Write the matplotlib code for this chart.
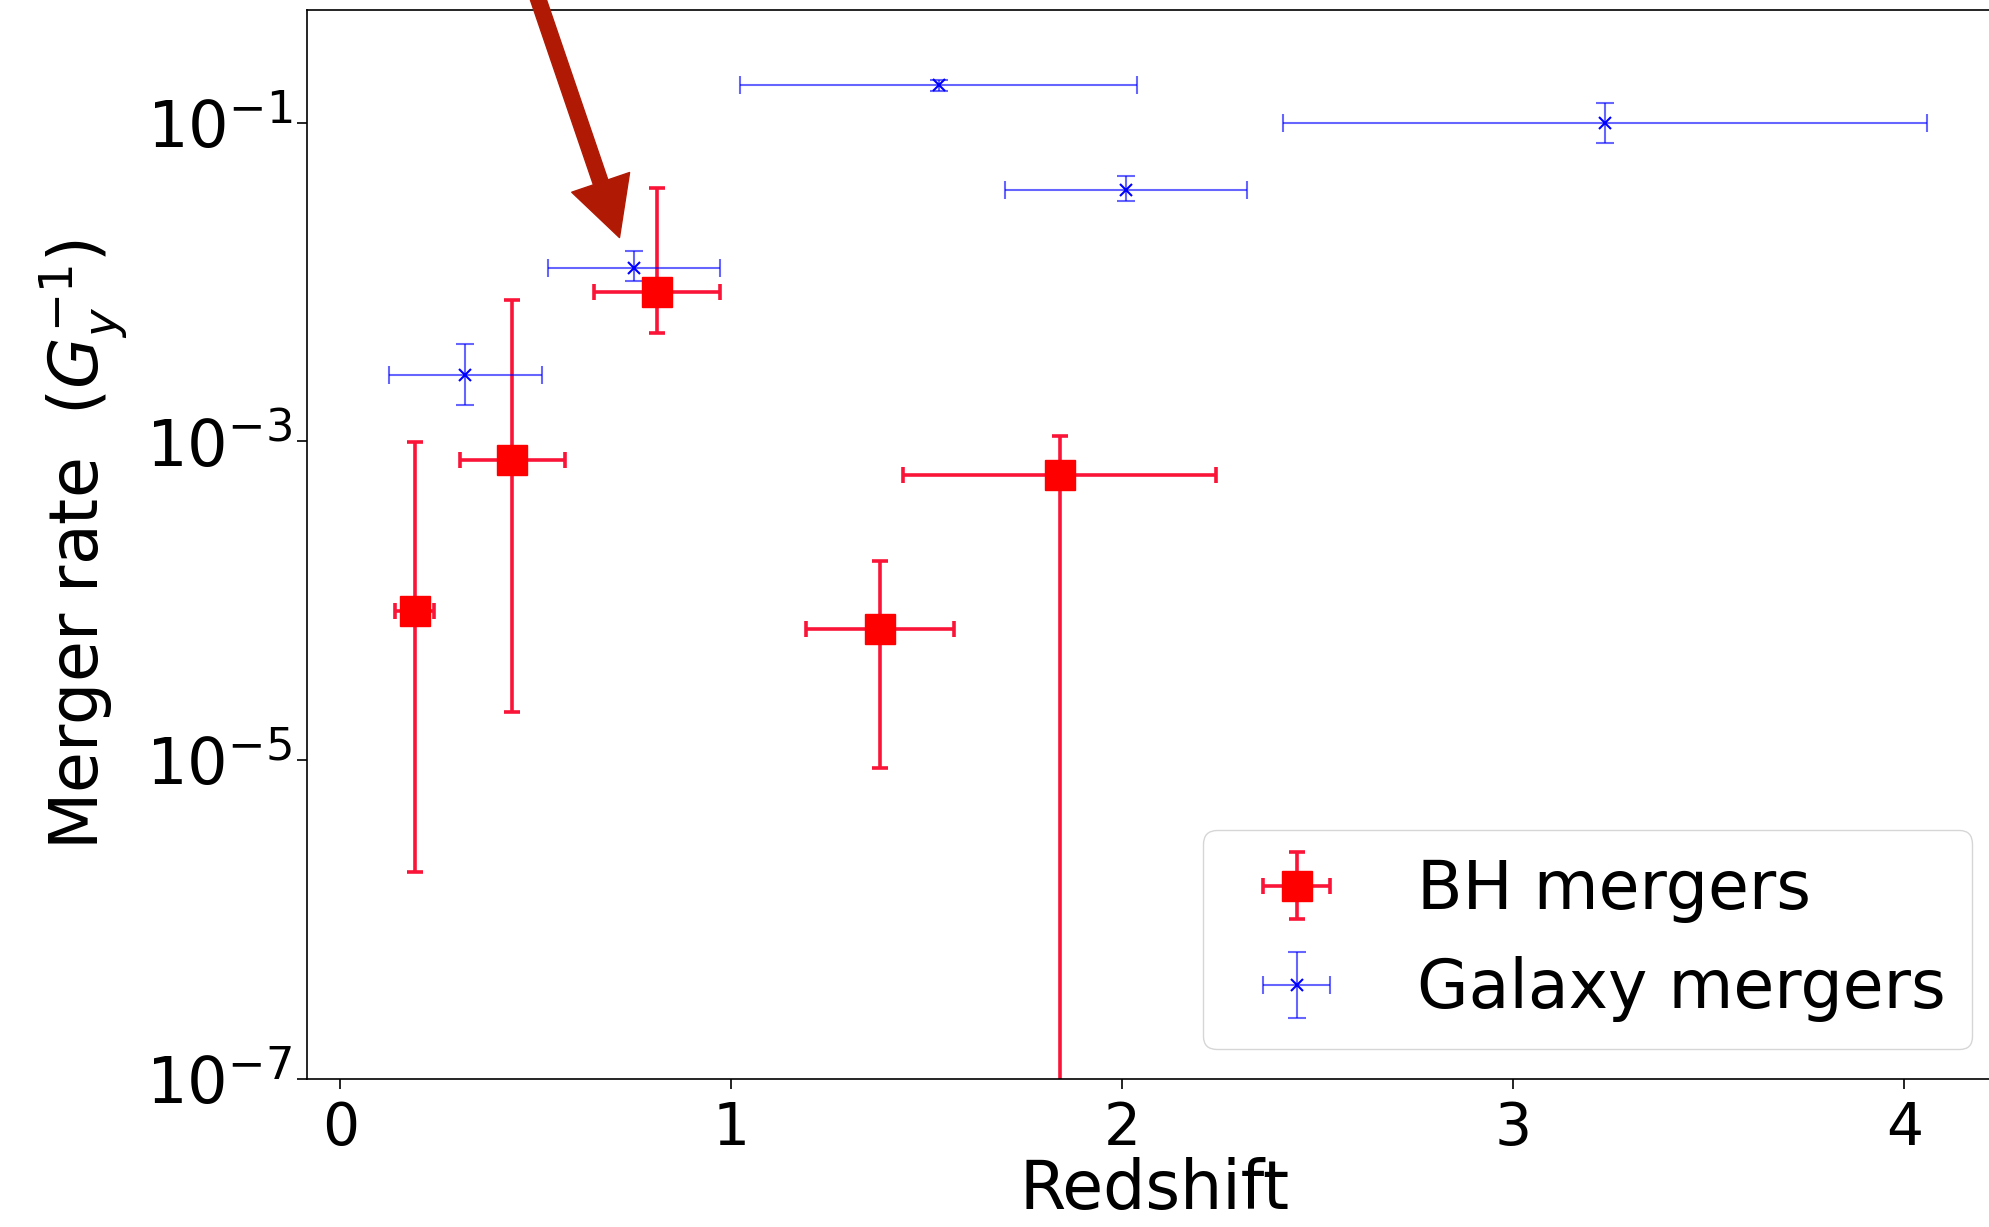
import numpy as np
import matplotlib
matplotlib.use("Agg")
import matplotlib.pyplot as plt

# BH mergers
bh_z = [0.19, 0.44, 0.81, 1.38, 1.84]
bh_zerr = [0.05, 0.135, 0.16, 0.19, 0.40]
bh_rate = [8.6e-5, 7.6e-4, 8.7e-3, 6.7e-5, 6.2e-4]
bh_rate_lo = [8.4e-5, 7.4e-4, 3.9e-3, 5.8e-5, 6.2e-4]  # lower errors
bh_rate_hi = [9.1e-4, 7.0e-3, 3.0e-2, 1.1e-4, 4.6e-4]  # upper errors

# Galaxy mergers
gal_z = [0.32, 0.75, 1.53, 2.01, 3.235]
gal_zerr = [0.196, 0.22, 0.507, 0.31, 0.824]
gal_rate = [2.6e-3, 0.0123, 0.171, 0.0377, 0.10]
gal_rate_lo = [0.9e-3, 0.0021, 0.013, 0.0057, 0.0255]
gal_rate_hi = [1.5e-3, 0.0033, 0.013, 0.0083, 0.032]

fig = plt.figure(figsize=(19.9, 12.27), dpi=100)
ax = fig.add_axes([0.1543, 0.1206, 0.8518, 0.8714])

ax.errorbar(bh_z, bh_rate, xerr=bh_zerr, yerr=[bh_rate_lo, bh_rate_hi],
            fmt='s', color='red', ecolor='#fa1437', markersize=21,
            elinewidth=2.6, capsize=5.5, capthick=2.6, label='BH mergers')
ax.errorbar(gal_z, gal_rate, xerr=gal_zerr, yerr=[gal_rate_lo, gal_rate_hi],
            fmt='x', color='blue', ecolor=(0, 0, 1, 0.6), markersize=8,
            markeredgewidth=1.5, elinewidth=1.5, capsize=6.5, capthick=1.5,
            label='Galaxy mergers')

ax.set_yscale('log')
ax.set_ylim(1e-7, 0.51)
ax.set_xlim(-0.085, 4.25)
ax.set_yticks([1e-7, 1e-5, 1e-3, 1e-1])
ax.yaxis.set_minor_locator(matplotlib.ticker.NullLocator())
ax.set_xticks([0, 1, 2, 3, 4])

ax.tick_params(labelsize=42, length=7, width=1.2)
ax.tick_params(axis='y', labelsize=46)
ax.tick_params(axis='x', pad=8)
for s in ax.spines.values():
    s.set_linewidth(1.2)

ax.set_xlabel('Redshift', fontsize=48, labelpad=0)
ax.set_ylabel(r'Merger rate  $(G_y^{-1})$', fontsize=48, labelpad=12)

ax.legend(loc='lower right', fontsize=48, borderaxespad=0.45)

# annotation arrow from above the frame
ax.annotate('', xy=(0.714, 0.019), xycoords='data',
            xytext=(517, 1290), textcoords='figure pixels',
            arrowprops=dict(facecolor='#b01a05', edgecolor='#b01a05',
                            width=11, headwidth=44, headlength=42),
            annotation_clip=False)

fig.savefig('out.png', dpi=100)
